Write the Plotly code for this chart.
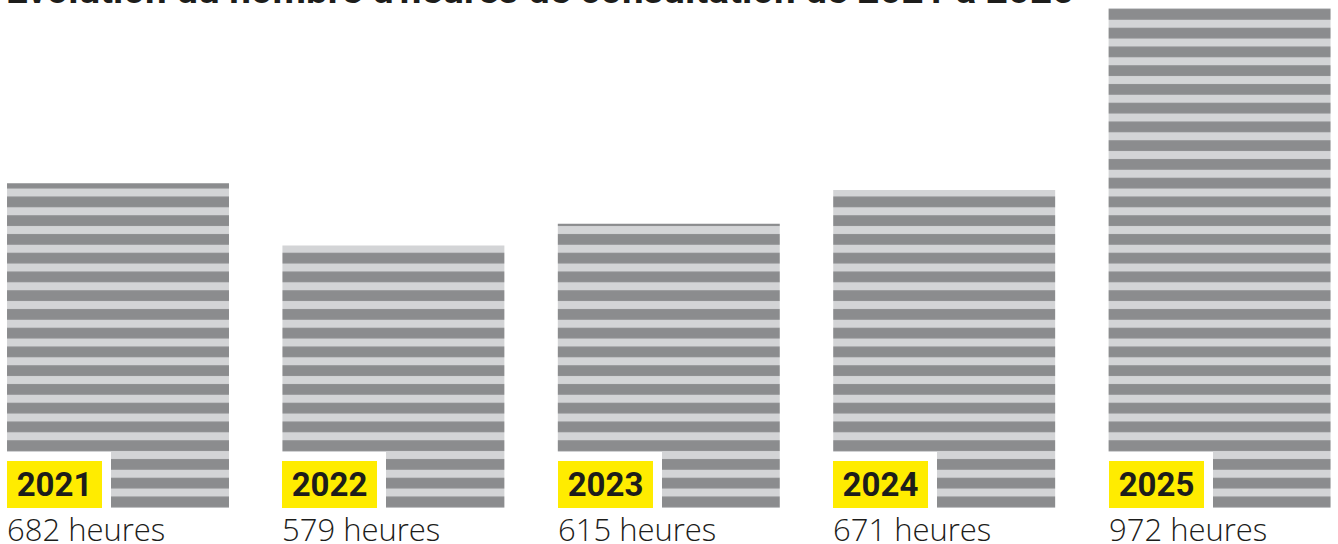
import plotly.graph_objects as go

# ---- data ----
years = ["2021", "2022", "2023", "2024", "2025"]
hours = [682, 579, 615, 671, 972]
value_labels = ["682 heures", "579 heures", "615 heures", "671 heures", "972 heures"]
title_text = "Évolution du nombre d'heures de consultation de 2021 à 2025"

# ---- style ----
DARK = "#8b8c8e"
LIGHT = "#d3d4d6"
YELLOW = "#ffec00"
TEXT = "#1d1d1b"
BARGAP = 0.194
Y_RANGE = [145, 977]
X_RANGE = [-0.4285, 4.43]

fig = go.Figure()
fig.add_trace(go.Bar(
    x=list(range(len(years))),
    y=hours,
    marker=dict(
        color=LIGHT,
        line=dict(width=0),
        pattern=dict(shape="-", fgcolor=DARK, bgcolor=LIGHT,
                     size=18.75, solidity=0.573, fillmode="replace"),
    ),
    hoverinfo="skip",
))

half = (1 - BARGAP) / 2
annotations = []
for i, (yr, lab) in enumerate(zip(years, value_labels)):
    annotations.append(dict(
        x=i - half, xref="x", xanchor="left", xshift=-9,
        y=0, yref="paper", yanchor="bottom", yshift=-9,
        text="<b>" + yr + "</b>", showarrow=False,
        font=dict(family="Roboto", size=33, color=TEXT),
        bgcolor=YELLOW, bordercolor="white", borderwidth=9, borderpad=1,
        width=93, height=45, align="center", valign="middle",
    ))
for i, (yr, lab) in enumerate(zip(years, value_labels)):
    annotations.append(dict(
        x=i - half, xref="x", xanchor="left", xshift=-2,
        y=0, yref="paper", yanchor="top", yshift=2,
        text=lab, showarrow=False,
        font=dict(family="Open Sans", size=31, color=TEXT, weight=300),
    ))
annotations.append(dict(
    x=0, xref="paper", xanchor="left", xshift=4,
    y=1, yref="paper", yanchor="bottom", yshift=-9.5,
    text="<b>" + title_text + "</b>", showarrow=False,
    font=dict(family="Roboto", size=38.6, color=TEXT),
))

fig.update_layout(
    width=1338, height=544,
    margin=dict(l=0, r=0, t=5, b=36, pad=0),
    paper_bgcolor="white", plot_bgcolor="white",
    bargap=BARGAP, showlegend=False,
    xaxis=dict(range=X_RANGE, visible=False, fixedrange=True),
    yaxis=dict(range=Y_RANGE, visible=False, fixedrange=True),
    annotations=annotations,
)

fig.write_html(
    "out.html",
    config={"displayModeBar": False},
    post_script="document.body.style.margin='0';document.body.style.padding='0';",
)
